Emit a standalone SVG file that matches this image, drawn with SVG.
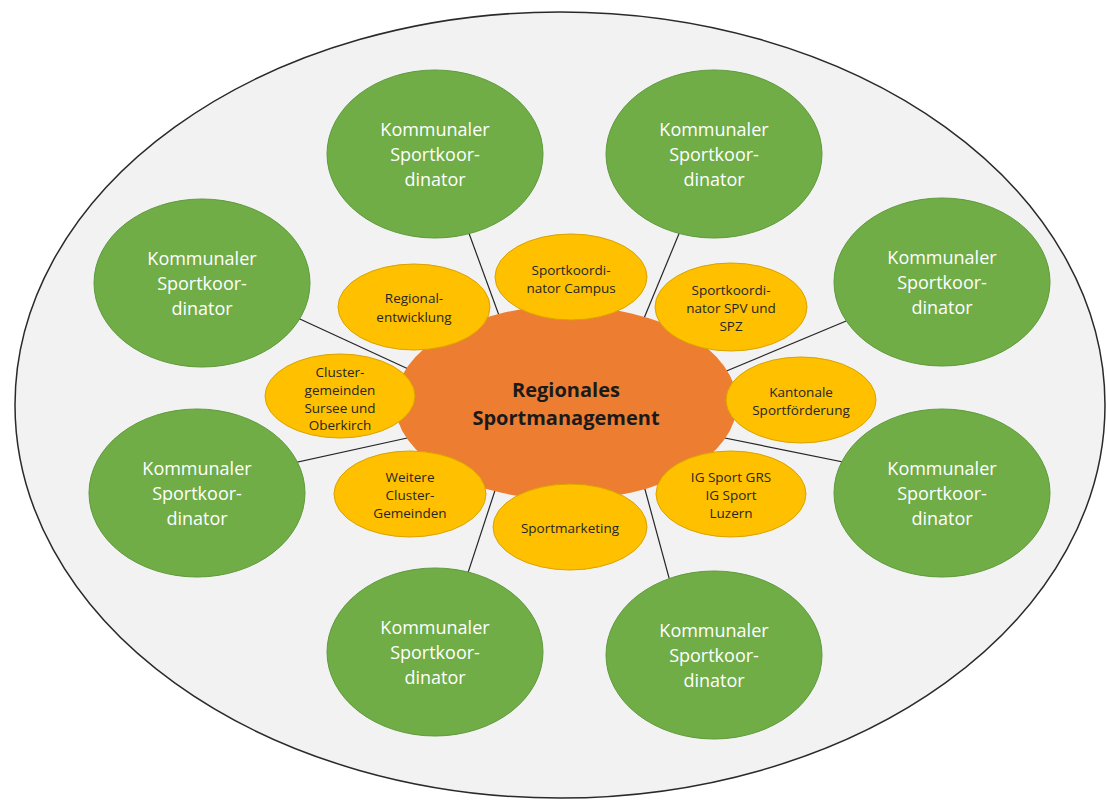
<svg xmlns="http://www.w3.org/2000/svg" width="1107" height="800" viewBox="0 0 1107 800">
<style>
.g{fill:#70ad47;stroke:#5f9a3c;stroke-width:1}
.y{fill:#ffc000;stroke:#d9a300;stroke-width:1}
.gt{font-family:"Open Sans","Noto Sans",sans-serif;font-size:18px;fill:#ffffff;text-anchor:middle}
.yt{font-family:"Open Sans","Noto Sans",sans-serif;font-size:13.5px;fill:#262626;text-anchor:middle}
.ct{font-family:"Open Sans","Noto Sans",sans-serif;font-size:20px;font-weight:bold;fill:#1a1a1a;text-anchor:middle}
.c line{stroke:#262626;stroke-width:1.2}
</style>
<rect width="1107" height="800" fill="#ffffff"/>
<ellipse id="outer" cx="560" cy="405" rx="545" ry="393" fill="#f2f2f2" stroke="#2a2a2a" stroke-width="1.5"/>
<g class="c" id="connectors">
<line x1="440" y1="154" x2="508" y2="340"/>
<line x1="712" y1="154" x2="635" y2="340"/>
<line x1="202" y1="274" x2="430" y2="379"/>
<line x1="942" y1="281" x2="700" y2="382"/>
<line x1="197" y1="484" x2="430" y2="433"/>
<line x1="942" y1="482" x2="700" y2="433"/>
<line x1="442" y1="652" x2="505" y2="460"/>
<line x1="690" y1="655" x2="637" y2="460"/>
</g>
<g id="k1"><ellipse class="g" cx="435" cy="154" rx="108" ry="84"/><text class="gt"><tspan x="435" y="136">Kommunaler</tspan><tspan x="435" y="161">Sportkoor-</tspan><tspan x="435" y="186">dinator</tspan></text></g>
<g id="k2"><ellipse class="g" cx="714" cy="154" rx="108" ry="84"/><text class="gt"><tspan x="714" y="136">Kommunaler</tspan><tspan x="714" y="161">Sportkoor-</tspan><tspan x="714" y="186">dinator</tspan></text></g>
<g id="k3"><ellipse class="g" cx="202" cy="283" rx="108" ry="84"/><text class="gt"><tspan x="202" y="265">Kommunaler</tspan><tspan x="202" y="290">Sportkoor-</tspan><tspan x="202" y="315">dinator</tspan></text></g>
<g id="k4"><ellipse class="g" cx="942" cy="282" rx="108" ry="84"/><text class="gt"><tspan x="942" y="264">Kommunaler</tspan><tspan x="942" y="289">Sportkoor-</tspan><tspan x="942" y="314">dinator</tspan></text></g>
<g id="k5"><ellipse class="g" cx="197" cy="493" rx="108" ry="84"/><text class="gt"><tspan x="197" y="475">Kommunaler</tspan><tspan x="197" y="500">Sportkoor-</tspan><tspan x="197" y="525">dinator</tspan></text></g>
<g id="k6"><ellipse class="g" cx="942" cy="493" rx="108" ry="84"/><text class="gt"><tspan x="942" y="475">Kommunaler</tspan><tspan x="942" y="500">Sportkoor-</tspan><tspan x="942" y="525">dinator</tspan></text></g>
<g id="k7"><ellipse class="g" cx="435" cy="652" rx="108" ry="84"/><text class="gt"><tspan x="435" y="634">Kommunaler</tspan><tspan x="435" y="659">Sportkoor-</tspan><tspan x="435" y="684">dinator</tspan></text></g>
<g id="k8"><ellipse class="g" cx="714" cy="655" rx="108" ry="84"/><text class="gt"><tspan x="714" y="637">Kommunaler</tspan><tspan x="714" y="662">Sportkoor-</tspan><tspan x="714" y="687">dinator</tspan></text></g>
<g id="center"><ellipse cx="566" cy="403" rx="171" ry="97" fill="#ed7d31"/></g>
<g id="campus"><ellipse class="y" cx="571" cy="277" rx="76" ry="43"/><text class="yt"><tspan x="571" y="275">Sportkoordi-</tspan><tspan x="571" y="293">nator Campus</tspan></text></g>
<g id="regional"><ellipse class="y" cx="414" cy="307" rx="76" ry="43"/><text class="yt"><tspan x="414" y="303">Regional-</tspan><tspan x="414" y="322">entwicklung</tspan></text></g>
<g id="spv"><ellipse class="y" cx="731" cy="307" rx="76" ry="44"/><text class="yt"><tspan x="731" y="295">Sportkoordi-</tspan><tspan x="731" y="313">nator SPV und</tspan><tspan x="731" y="331">SPZ</tspan></text></g>
<g id="cluster"><ellipse class="y" cx="340" cy="396" rx="75" ry="42"/><text class="yt"><tspan x="340" y="377">Cluster-</tspan><tspan x="340" y="395">gemeinden</tspan><tspan x="340" y="413">Sursee und</tspan><tspan x="340" y="430">Oberkirch</tspan></text></g>
<g id="kantonal"><ellipse class="y" cx="801" cy="400" rx="75" ry="43"/><text class="yt"><tspan x="801" y="397">Kantonale</tspan><tspan x="801" y="415">Sportförderung</tspan></text></g>
<g id="weitere"><ellipse class="y" cx="410" cy="494" rx="76" ry="43"/><text class="yt"><tspan x="410" y="482">Weitere</tspan><tspan x="410" y="500">Cluster-</tspan><tspan x="410" y="518">Gemeinden</tspan></text></g>
<g id="marketing"><ellipse class="y" cx="570" cy="527" rx="77" ry="43"/><text class="yt"><tspan x="570" y="533">Sportmarketing</tspan></text></g>
<g id="igsport"><ellipse class="y" cx="731" cy="494" rx="75" ry="43"/><text class="yt"><tspan x="731" y="482">IG Sport GRS</tspan><tspan x="731" y="500">IG Sport</tspan><tspan x="731" y="518">Luzern</tspan></text></g>
<g id="centerlabel"><text class="ct"><tspan x="566" y="397">Regionales</tspan><tspan x="566" y="425">Sportmanagement</tspan></text></g>
</svg>
